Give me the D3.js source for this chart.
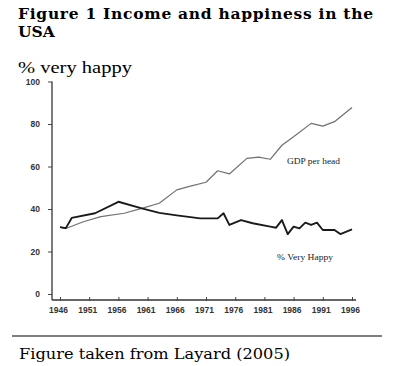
<!DOCTYPE html>
<html>
<head>
<meta charset="utf-8">
<script src="https://cdn.jsdelivr.net/npm/d3@7"></script>
<style>
  body { margin: 0; background: #fff; }
  svg { display: block; }
</style>
</head>
<body>
<div id="chart"></div>
<script>
// data (Layard 2005)
const happyYears  = [1946, 1947, 1948, 1952, 1956, 1960, 1963, 1966, 1970, 1973, 1974, 1975, 1977, 1979, 1982, 1983, 1984, 1985, 1986, 1987, 1988, 1989, 1990, 1991, 1993, 1994, 1996];
const happyValues = [31.5, 31, 35.8, 38, 43.4, 40.3, 38.2, 37, 35.6, 35.6, 38, 32.5, 34.8, 33.3, 31.7, 31.2, 34.8, 28.2, 31.7, 30.9, 33.6, 32.5, 33.6, 30.1, 30.1, 28.2, 30.4];

const gdpYears  = [1946, 1947, 1950, 1953, 1957, 1960, 1963, 1966, 1968, 1971, 1973, 1975, 1978, 1980, 1982, 1984, 1986, 1989, 1991, 1993, 1996];
const gdpValues = [31.5, 30.8, 34, 36.4, 38, 40.3, 42.7, 49, 50.5, 52.6, 58, 56.5, 63.8, 64.4, 63.4, 70, 74, 80.3, 79, 81.1, 87.8];

const xTicks = [1946, 1951, 1956, 1961, 1966, 1971, 1976, 1981, 1986, 1991, 1996];
const yTicks = [0, 20, 40, 60, 80, 100];

const width = 410, height = 366;

const svg = d3.select("#chart").append("svg")
    .attr("width", width)
    .attr("height", height);

// HEADINGS ------------------------------------------------------------
const serif = "'DejaVu Serif', 'Liberation Serif', serif";

svg.append("text")
    .attr("x", 18).attr("y", 19)
    .attr("textLength", 355).attr("lengthAdjust", "spacing")
    .style("font-family", serif).style("font-weight", "bold").style("font-size", "15.5px")
    .text("Figure 1 Income and happiness in the");

svg.append("text")
    .attr("x", 18).attr("y", 37)
    .style("font-family", serif).style("font-weight", "bold").style("font-size", "15.5px")
    .text("USA");

svg.append("text")
    .attr("x", 18).attr("y", 73)
    .attr("textLength", 114).attr("lengthAdjust", "spacingAndGlyphs")
    .style("font-family", "'Liberation Serif', serif").style("font-size", "17px")
    .text("% very happy");

// SCALES ---------------------------------------------------------------
const x = d3.scaleLinear().domain([1946, 1996]).range([60, 352]);
const y = d3.scaleLinear().domain([0, 100]).range([294, 81.5]);

const axisLeftX = 52, axisBottomY = 300;

const tickFont = "'Liberation Sans', Arial, sans-serif";

// y axis
const yAxis = svg.append("g")
    .attr("transform", `translate(${axisLeftX},0)`)
    .call(d3.axisLeft(y).tickValues(yTicks).tickSize(4).tickPadding(8).tickSizeOuter(0));
yAxis.select(".domain").attr("d", `M0,${y(100)}V${axisBottomY}`).attr("stroke", "#333").attr("stroke-width", 1.3);

// x axis
const xAxis = svg.append("g")
    .attr("transform", `translate(0,${axisBottomY})`)
    .call(d3.axisBottom(x).tickValues(xTicks).tickFormat(d3.format("d")).tickSize(3).tickPadding(4).tickSizeOuter(0));
xAxis.select(".domain").attr("d", `M${axisLeftX},0H356`).attr("stroke", "#333").attr("stroke-width", 1.3);
xAxis.selectAll(".tick line").attr("transform", "translate(0,-3)").attr("y2", 4);
xAxis.selectAll(".tick text").attr("dx", -2);

svg.selectAll(".tick line").attr("stroke", "#444");
svg.selectAll(".tick text")
    .style("font-family", tickFont).style("font-weight", "bold").style("font-size", "8.5px")
    .attr("fill", "#333");

// LINES ----------------------------------------------------------------
const line = d3.line()
    .x(d => x(d[0]))
    .y(d => y(d[1]));

svg.append("path")
    .datum(d3.zip(gdpYears, gdpValues))
    .attr("d", line)
    .attr("fill", "none")
    .attr("stroke", "#707070")
    .attr("stroke-width", 1.2)
    .attr("stroke-linejoin", "round");

svg.append("path")
    .datum(d3.zip(happyYears, happyValues))
    .attr("d", line)
    .attr("fill", "none")
    .attr("stroke", "#1a1a1a")
    .attr("stroke-width", 1.9)
    .attr("stroke-linejoin", "round");

// series labels
svg.append("text")
    .attr("x", 287).attr("y", 164)
    .attr("textLength", 53).attr("lengthAdjust", "spacingAndGlyphs")
    .style("font-family", "'Liberation Serif', serif").style("font-size", "8.5px")
    .attr("fill", "#222")
    .text("GDP per head");

svg.append("text")
    .attr("x", 277).attr("y", 260)
    .attr("textLength", 56).attr("lengthAdjust", "spacingAndGlyphs")
    .style("font-family", "'Liberation Serif', serif").style("font-size", "8.5px")
    .attr("fill", "#222")
    .text("% Very Happy");

// FOOTER ---------------------------------------------------------------
svg.append("line")
    .attr("x1", 12).attr("x2", 382)
    .attr("y1", 336).attr("y2", 336)
    .attr("stroke", "#000").attr("stroke-width", 1.2);

svg.append("text")
    .attr("x", 19).attr("y", 359)
    .attr("textLength", 271).attr("lengthAdjust", "spacingAndGlyphs")
    .style("font-family", serif).style("font-size", "15px")
    .text("Figure taken from Layard (2005)");
</script>
</body>
</html>
